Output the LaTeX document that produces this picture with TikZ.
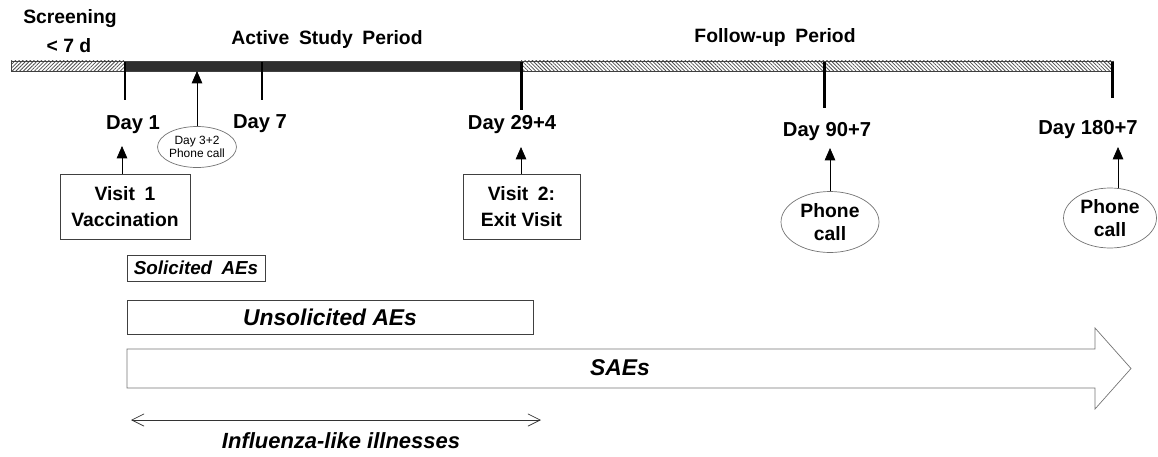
\documentclass[tikz,border=0pt]{standalone}
\usepackage{fontspec}
\setmainfont{Liberation Sans}
\usetikzlibrary{arrows.meta, positioning, patterns.meta, shapes.geometric}
\usepackage{xcolor}
\colorlet{mybar}{black!82}
\colorlet{myedge}{black!75}
\colorlet{mygray}{black!55}
\colorlet{myhatch}{black!70}
\tikzset{
  >={Triangle[length=7pt,width=6pt]},
  lbl/.style={font=\fontsize{11}{13}\selectfont\bfseries, inner sep=1pt},
  day/.style={font=\fontsize{11.5}{13}\selectfont\bfseries, inner sep=1pt},
  tick/.style={line width=1.7pt, black},
  arrow/.style={->, thin, black},
  visit/.style={draw=myedge, thin, align=center, minimum width=2.6cm, minimum height=1.3cm,
    font=\fontsize{11}{14.5}\selectfont\bfseries},
  call/.style={draw=mygray, thin, ellipse, align=center, inner sep=0pt,
    font=\fontsize{11}{13.5}\selectfont\bfseries},
  call small/.style={call, minimum width=1.3cm, minimum height=0.82cm,
    font=\fontsize{6.8}{7.8}\selectfont},
  aebox/.style={draw=myedge, thin, inner sep=0pt, font=\bfseries\itshape},
  hatch/.style={draw=myedge, thin, pattern color=myhatch},
  ili/.style={{Straight Barb[length=7pt,width=7pt]}-{Straight Barb[length=7pt,width=7pt]}, thin, black!80}
}

\begin{document}
\begin{tikzpicture}[x=0.02cm, y=-0.02cm]
  \useasboundingbox (0,0) rectangle (1158,456);

  % --- TIMELINE BAR ---
  \draw[hatch, pattern={Lines[angle=45,distance=1.5pt,line width=0.45pt]}] (11,61) rectangle (124,71);
  \draw[hatch, pattern={Lines[angle=-45,distance=1.5pt,line width=0.45pt]}] (521,61) rectangle (1113,71);
  \filldraw[draw=myedge, fill=mybar] (124,61) rectangle (521,71);

  % period labels
  \node[lbl] (screen) at (70,19) {Screening};
  \node[lbl] (screen-d) at (69,46) {< 7 d};
  \node[lbl] (active) at (327,40) {Active\enspace Study\enspace Period};
  \node[lbl] (follow) at (775,38) {Follow-up\enspace Period};

  % ticks
  \foreach \x/\yb in {125/100, 262/100, 521/110, 824/108, 1112/98}
    \draw[tick] (\x,62) -- (\x,\yb);

  % --- DAY LABELS ---
  \node[day] (d1) at (133,125) {Day 1};
  \node[day] (d7) at (260,124) {Day 7};
  \node[day] (d29) at (512,125) {Day 29+4};
  \node[day] (d90) at (827,132) {Day 90+7};
  \node[day] (d180) at (1088,130) {Day 180+7};

  % --- VISITS AND CALLS ---
  \node[visit] (visit1) at (125,206.5) {Visit\enspace 1\\Vaccination};
  \coordinate (visit1-tip) at (122,146);
  \draw[arrow] (visit1.north -| visit1-tip) -- (visit1-tip);

  \node[call small] (call3) at (197,147) {Day 3+2\\Phone call};
  \coordinate (call3-tip) at (197,71);
  \draw[arrow] (call3) -- (call3-tip);

  \node[visit, minimum width=2.34cm, minimum height=1.3cm] (visit2) at (521.5,206.5) {Visit\enspace 2:\\Exit Visit};
  \coordinate (visit2-tip) at (521,147);
  \draw[arrow] (visit2.north -| visit2-tip) -- (visit2-tip);

  \node[call, minimum width=1.96cm, minimum height=1.22cm] (call90) at (830,222) {Phone\\call};
  \coordinate (call90-tip) at (830,148);
  \draw[arrow] (call90) -- (call90-tip);

  \node[call, minimum width=1.86cm, minimum height=1.2cm] (call180) at (1110,218) {Phone\\call};
  \coordinate (call180-tip) at (1118,147);
  \draw[arrow] (call180.north -| call180-tip) -- (call180-tip);

  % --- SAFETY PERIODS ---
  \node[aebox, minimum width=2.76cm, minimum height=0.52cm, font=\fontsize{10.7}{12}\selectfont\bfseries\itshape]
    (solicited) at (196,268) {Solicited\enspace AEs};
  \node[aebox, minimum width=8.12cm, minimum height=0.68cm, font=\fontsize{13}{15}\selectfont\bfseries\itshape]
    (unsolicited) at (330,317) {Unsolicited AEs};

  \draw[draw=mygray, thin] (127,349) -- (1095,349) -- (1095,328) -- (1131,368.5)
    -- (1095,409) -- (1095,388) -- (127,388) -- cycle;
  \node[font=\fontsize{13}{15}\selectfont\bfseries\itshape] (saes) at (620,368) {SAEs};

  \coordinate (ili-l) at (131,420);
  \coordinate (ili-r) at (541,420);
  \draw[ili] (ili-l) -- (ili-r);
  \node[font=\fontsize{12.5}{14}\selectfont\bfseries\itshape] (ili) at (341,441) {Influenza-like illnesses};

\end{tikzpicture}
\end{document}
